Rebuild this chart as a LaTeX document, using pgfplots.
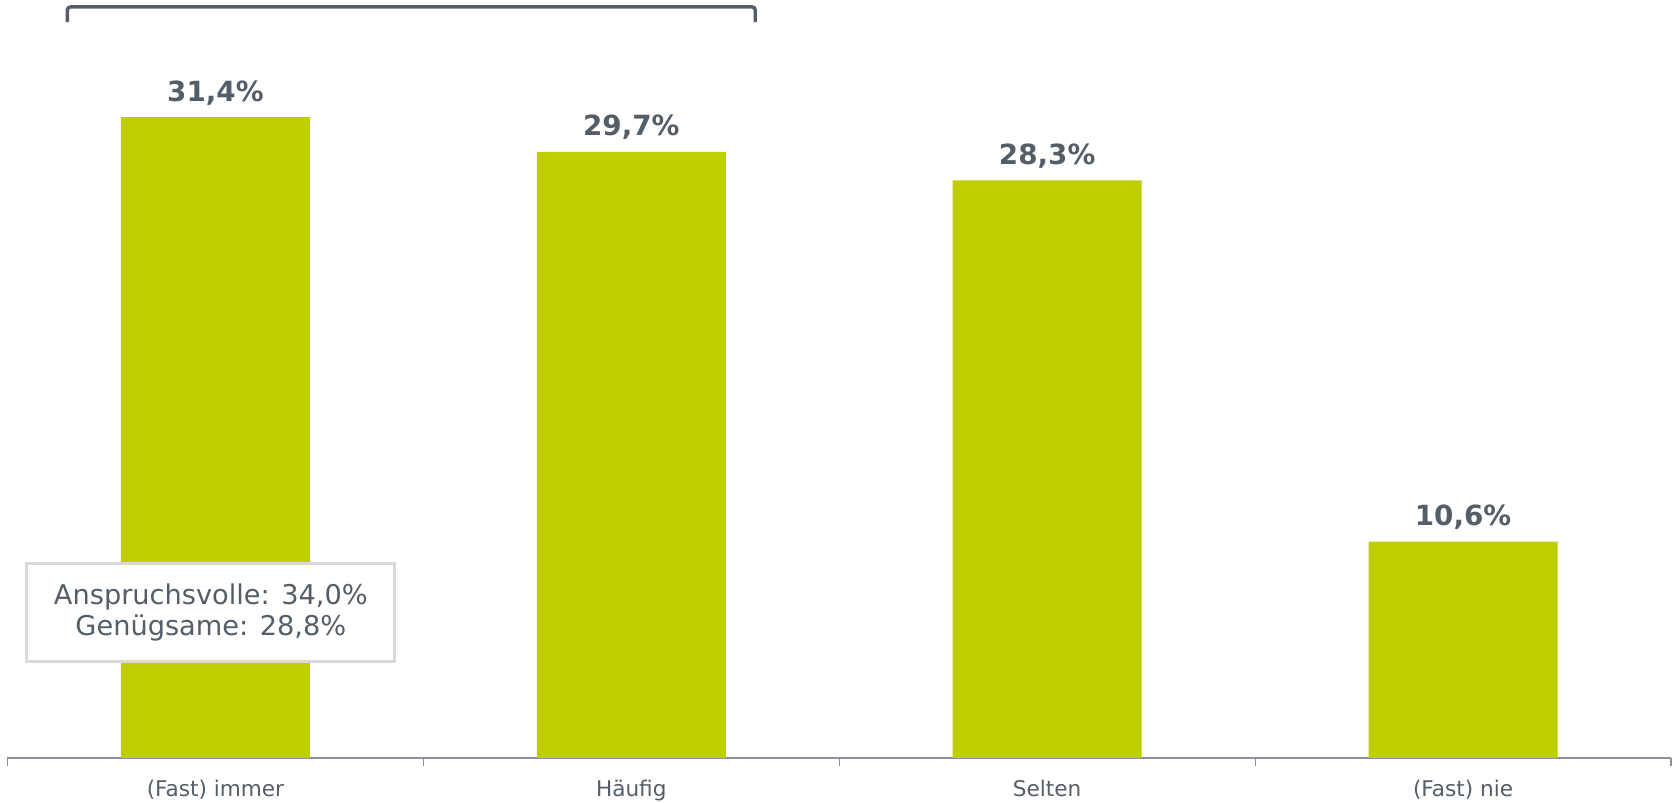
\documentclass[border=0pt]{standalone}
\usepackage{pgfplots}
\pgfplotsset{compat=1.18}
\usepackage{fontspec}
\setmainfont{DejaVu Sans}

\definecolor{barlime}{HTML}{BFCE00}
\definecolor{slate}{HTML}{535E69}
\definecolor{axisgray}{HTML}{8A9097}
\definecolor{boxgray}{HTML}{D9D9D9}

\begin{document}
\begin{tikzpicture}
\path[use as bounding box] (0,0) rectangle (838.5pt,401.5pt);
\begin{axis}[
    at={(3.75pt,22.5pt)}, anchor=south west,
    scale only axis,
    width=831.75pt, height=379pt,
    ybar, bar width=94.5pt,
    xmin=-0.5, xmax=3.5,
    ymin=0, ymax=37.14,
    axis x line=bottom, axis y line=none,
    x axis line style={-, draw=axisgray, line width=0.8pt},
    xtick={0,1,2,3},
    xticklabels={(Fast) immer, Häufig, Selten, (Fast) nie},
    major tick length=0pt,
    minor xtick={-0.5,0.5,1.5,2.5,3.5},
    minor tick length=4pt,
    tick align=outside,
    minor tick style={draw=axisgray, line width=0.6pt},
    xticklabel style={font=\fontsize{10.8}{12}\selectfont, text=slate, anchor=base, yshift=-19.5pt},
    clip=false,
    /pgf/number format/assume math mode=true,
    nodes near coords={\pgfmathprintnumber[fixed,fixed zerofill,precision=1,use comma]{\pgfplotspointmeta}\%},
    every node near coord/.append style={font=\bfseries\fontsize{13.9}{15}\selectfont, text=slate, anchor=base, inner sep=0pt, yshift=8pt},
]
\addplot[fill=barlime, draw=none] coordinates {
(0,31.4)
(1,29.7)
(2,28.3)
(3,10.6)
};

% bracket over the first two categories
\draw[slate, line width=1.7pt, rounded corners=1.5pt]
    (axis cs:-0.356,36.06) -- (axis cs:-0.356,36.8)
    -- (axis cs:1.298,36.8) -- (axis cs:1.298,36.06);

% callout box
\node[draw=boxgray, line width=1.6pt, fill=white, minimum width=184pt,
      minimum height=49pt, inner sep=0pt, align=center, text=slate,
      font=\fontsize{13.6}{15.5}\selectfont]
    at (axis cs:-0.011,7.13) {Anspruchsvolle: 34,0\%\\Genügsame: 28,8\%};
\end{axis}
\end{tikzpicture}
\end{document}
